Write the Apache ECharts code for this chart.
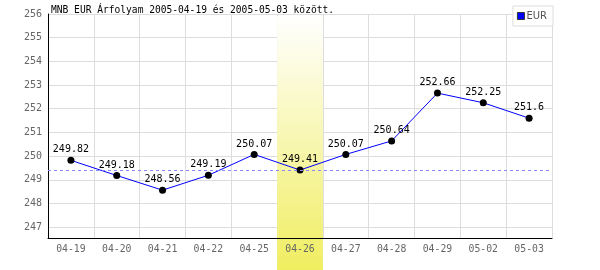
<!DOCTYPE html>
<html>
<head>
<meta charset="utf-8">
<script src="https://cdn.jsdelivr.net/npm/echarts@6/dist/echarts.min.js"></script>
<style>html,body{margin:0;padding:0;background:#fff}#c{width:600px;height:270px}</style>
</head>
<body>
<div id="c"></div>
<script>
var categories = ['04-19','04-20','04-21','04-22','04-25','04-26','04-27','04-28','04-29','05-02','05-03'];
var eurValues = [249.82, 249.18, 248.56, 249.19, 250.07, 249.41, 250.07, 250.64, 252.66, 252.25, 251.6];
var yTicks = [247, 248, 249, 250, 251, 252, 253, 254, 255, 256];
var highlightIndex = 5;
var titleText = 'MNB EUR Árfolyam 2005-04-19 és 2005-05-03 között.';
var seriesName = 'EUR';

var mono = 'DejaVu Sans Mono';
var chart = echarts.init(document.getElementById('c'), null, {renderer: 'canvas'});
var option = {
  animation: false,
  backgroundColor: '#fff',
  title: {
    text: titleText, left: 51, top: 5, padding: 0,
    textStyle: {fontFamily: mono, fontSize: 9.6, fontWeight: 'normal', color: '#000'}
  },
  legend: {
    data: [{name: seriesName, icon: 'rect'}],
    right: 47, top: 6, orient: 'vertical',
    backgroundColor: '#fff', borderColor: '#ddd', borderWidth: 1,
    padding: [5, 6, 5, 4], itemWidth: 7, itemHeight: 7, itemGap: 2,
    textStyle: {fontFamily: 'DejaVu Sans', fontSize: 10, color: '#555', padding: [0,0,0,-3]},
    itemStyle: {color: '#0000ff', borderColor: '#333', borderWidth: 1}
  },
  grid: {left: 48, right: 48, top: 14, bottom: 32, containLabel: false},
  xAxis: [{
    type: 'category', data: categories, boundaryGap: true, position: 'bottom', z: 0,
    axisLine: {show: false}, axisTick: {show: false}, axisLabel: {show: false},
    splitLine: {show: true, lineStyle: {color: '#ddd', width: 1}}
  }, {
    type: 'category', data: categories, boundaryGap: true, position: 'bottom', z: 5,
    axisLine: {show: true, lineStyle: {color: '#000', width: 1}},
    axisTick: {show: false},
    axisLabel: {fontFamily: mono, fontSize: 9.8, color: '#666', margin: 6},
    splitLine: {show: false}
  }],
  yAxis: {
    type: 'value', min: 246.54, max: 256, z: 0,
    axisLine: {show: true, lineStyle: {color: '#000', width: 1}},
    axisTick: {show: false, customValues: yTicks},
    axisLabel: {customValues: yTicks, fontFamily: mono, fontSize: 10, color: '#666', margin: 6},
    splitLine: {show: true, lineStyle: {color: '#ddd', width: 1}}
  },
  series: [{
    type: 'line', name: 'ref', data: [], z: 0, silent: true,
    markLine: {
      silent: true, symbol: 'none', label: {show: false},
      lineStyle: {color: '#8888ff', type: [3, 3], width: 1},
      data: [{yAxis: eurValues[highlightIndex]}]
    }
  }, {
    type: 'line', name: seriesName, data: eurValues, z: 3,
    symbol: 'circle', symbolSize: 7,
    itemStyle: {color: '#000'},
    lineStyle: {color: '#0000ff', width: 1},
    label: {show: true, position: 'top', distance: 2, fontFamily: mono, fontSize: 10, color: '#000'}
  }]
};
chart.setOption(option);

var x0 = chart.convertToPixel({xAxisIndex: 0}, highlightIndex);
var x1 = chart.convertToPixel({xAxisIndex: 0}, highlightIndex + 1);
var bw = x1 - x0;
var yTop = chart.convertToPixel({yAxisIndex: 0}, 256) + 2;
chart.setOption({
  graphic: [{
    type: 'rect', z: 1, silent: true,
    shape: {x: x0 - bw / 2, y: yTop, width: bw, height: chart.getHeight() - yTop},
    style: {fill: new echarts.graphic.LinearGradient(0, 0, 0, 1, [
      {offset: 0, color: '#ffffff'}, {offset: 1, color: '#f0ee60'}
    ])}
  }]
});
</script>
</body>
</html>
